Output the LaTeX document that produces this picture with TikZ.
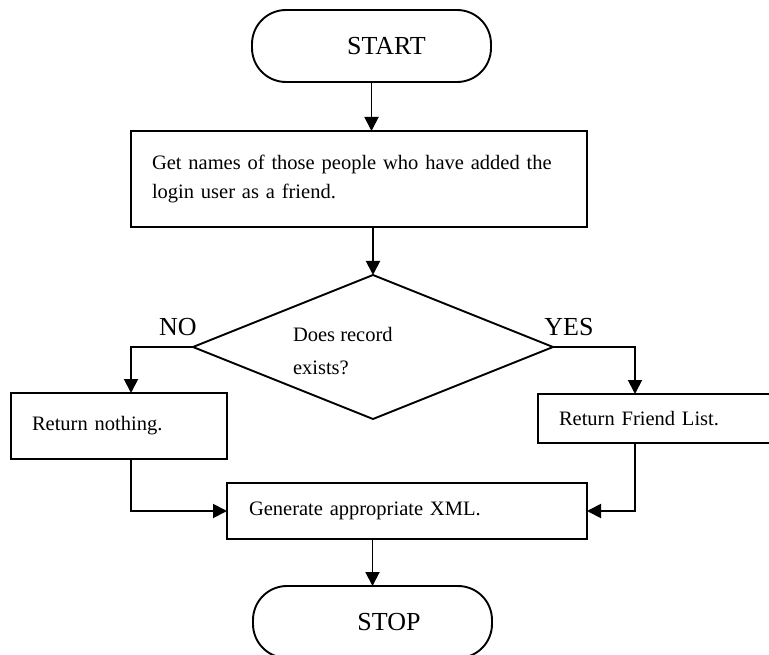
\documentclass[tikz,border=0pt]{standalone}
\usepackage{fontspec}
\setmainfont{Liberation Serif}
\usetikzlibrary{shapes.geometric,arrows.meta}
\begin{document}
\begin{tikzpicture}[x=1pt,y=-1pt,
  every node/.style={inner sep=0pt, outer sep=0pt},
  flow/.style={line width=1.9pt},
  arr/.style={flow,-{Triangle[length=14pt,width=14pt]}},
  term/.style={draw, line width=1.9pt, rounded corners=34pt, minimum width=239pt, minimum height=72pt, font=\fontsize{26}{30}\selectfont},
  proc/.style={draw, line width=1.9pt, align=left, font=\fontsize{20.5}{29}\selectfont},
  decision/.style={draw, diamond, line width=1.9pt, minimum width=360pt, minimum height=144pt},
  body/.style={font=\fontsize{20.5}{33}\selectfont, align=left},
  tag/.style={font=\fontsize{26}{30}\selectfont}]
\clip (0,0) rectangle (769,655);
\fill[white] (0,0) rectangle (769,655);

% terminals, steps and the decision
\node[term] (start) at (371.5,46) {\hspace*{30pt}START};
\node[proc, minimum width=456pt, minimum height=96pt, text width=414pt] (get) at (359,179)
  {Get names of those people who have added the\\login user as a friend.};
\node[decision] (dec) at (373,347) {};
\node[body, anchor=west] (q) at (293,351) {Does record\\exists?};
\node[tag] (no) at (178,327) {NO};
\node[tag] (yes) at (569,327) {YES};
\node[proc, minimum width=216pt, minimum height=66pt, text width=174pt] (none) at (119,426) {Return nothing.};
\node[proc, minimum width=234pt, minimum height=49pt, text width=192pt] (fl) at (655,418.5) {Return Friend List.};
\node[proc, minimum width=360pt, minimum height=56pt, text width=316pt] (gen) at (407,511) {Generate appropriate XML.};
\node[term] (stop) at (372.5,622) {\hspace*{33pt}STOP};

% connectors
\draw[arr] (start.south) -- (start.south |- get.north);
\draw[arr] (dec.north |- get.south) -- (dec.north);
\draw[arr] (dec.west) -| ([xshift=12pt]none.north);
\draw[arr] (dec.east) -| ([xshift=-20pt]fl.north);
\draw[arr] ([xshift=12pt]none.south) |- (gen.west);
\draw[arr] ([xshift=-20pt]fl.south) |- (gen.east);
\draw[arr] (stop.north |- gen.south) -- (stop.north);
\end{tikzpicture}
\end{document}
